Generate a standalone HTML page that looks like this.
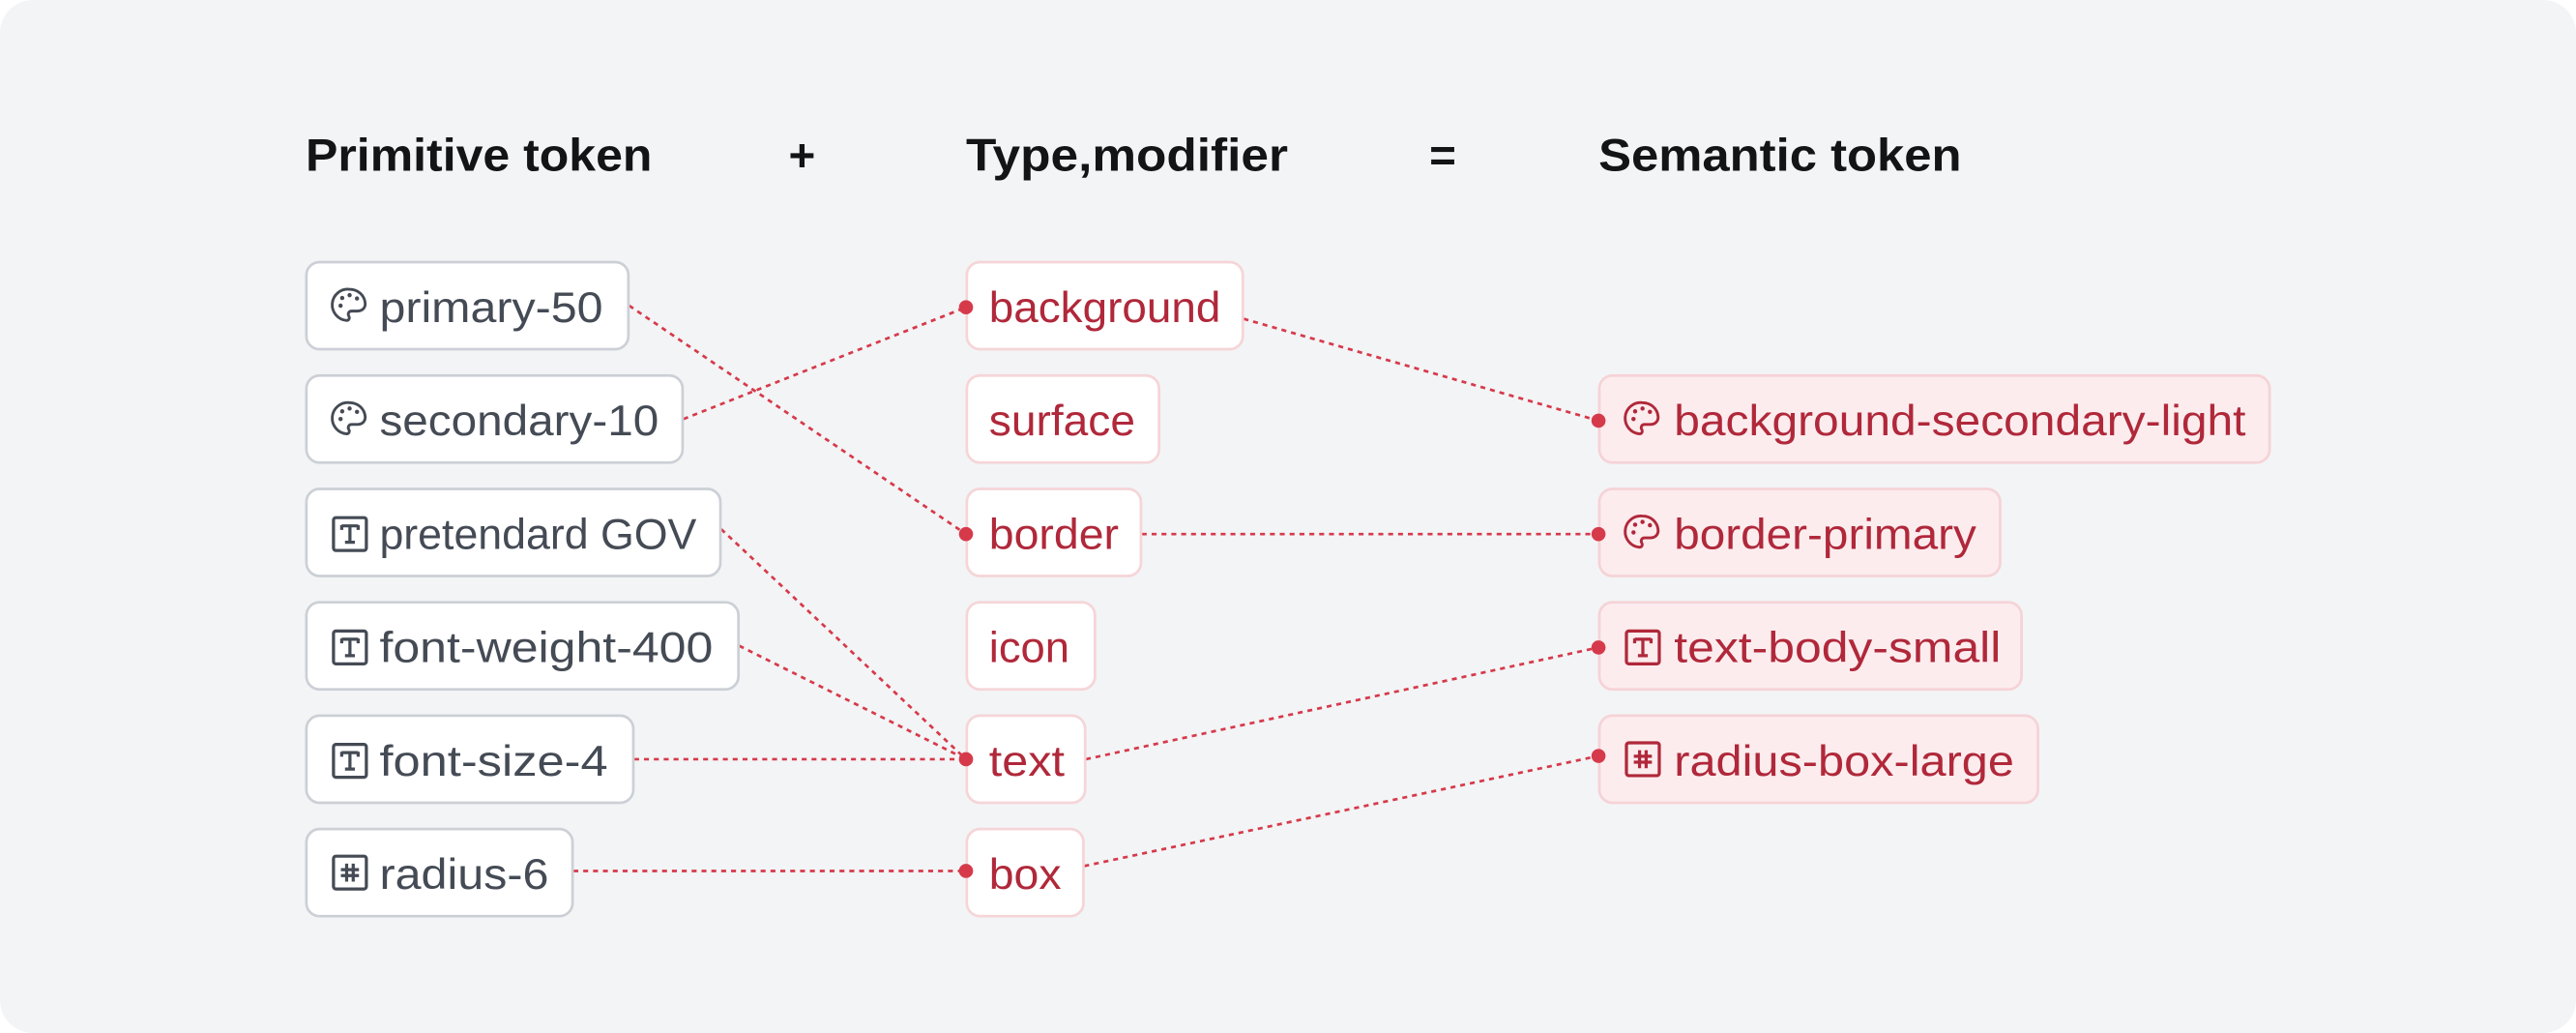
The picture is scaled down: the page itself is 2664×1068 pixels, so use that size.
<!DOCTYPE html>
<html><head><meta charset="utf-8"><style>
html,body{margin:0;padding:0;background:#fff;width:2664px;height:1068px;overflow:hidden}
svg{display:block}
text{font-family:"Liberation Sans",sans-serif}
</style></head><body>
<svg width="2664" height="1068" viewBox="0 0 1568 628.6" preserveAspectRatio="none" xmlns="http://www.w3.org/2000/svg">
<defs>
<g id="pal" fill="none" stroke="currentColor" stroke-width="1.7">
<path d="M10.5 1 A9.5 9.5 0 1 0 9 20 C10.5 20 11 18.5 10.3 17.3 C9.5 16 10.3 14.3 12 14.3 L15.5 14.3 C18.5 14.3 20.5 12.3 20.3 9.5 C19.8 4.5 15.8 1 10.5 1 Z"/>
<circle cx="5.3" cy="11" r="1.3" stroke="none" fill="currentColor"/>
<circle cx="6.3" cy="6.3" r="1.3" stroke="none" fill="currentColor"/>
<circle cx="10.8" cy="4.6" r="1.3" stroke="none" fill="currentColor"/>
<circle cx="15.3" cy="6.6" r="1.3" stroke="none" fill="currentColor"/>
</g>
<g id="tt" fill="none" stroke="currentColor" stroke-width="1.9">
<rect x="1" y="1" width="20" height="20" rx="1.5"/>
<path d="M6 6H16M6 5.5v3M16 5.5v3M11 6V16M8 16H14"/>
</g>
<g id="hs" fill="none" stroke="currentColor" stroke-width="1.9">
<rect x="1" y="1" width="20" height="20" rx="1.5"/>
<path d="M9 5.5V16.5M13 5.5V16.5M5.5 9.2H16.5M5.5 12.8H16.5"/>
</g>
</defs>
<rect x="0" y="0" width="1568" height="628.6" rx="20" fill="#f3f4f6"/>

<g font-weight="bold" font-size="28" fill="#121416">
<text x="186" y="104" textLength="211" lengthAdjust="spacingAndGlyphs">Primitive token</text>
<text x="480" y="104">+</text>
<text x="588" y="104" textLength="196" lengthAdjust="spacingAndGlyphs">Type,modifier</text>
<text x="870" y="104">=</text>
<text x="973" y="104" textLength="221" lengthAdjust="spacingAndGlyphs">Semantic token</text>
</g>

<g stroke="#d63a4a" stroke-width="1.6" stroke-dasharray="3 3" fill="none">
<line x1="383" y1="186" x2="588" y2="325"/>
<line x1="416" y1="255" x2="588" y2="187"/>
<line x1="439" y1="322" x2="588" y2="462"/>
<line x1="450" y1="393" x2="588" y2="462"/>
<line x1="386" y1="462" x2="588" y2="462"/>
<line x1="349" y1="530" x2="588" y2="530"/>
<line x1="757" y1="194" x2="973" y2="256"/>
<line x1="695" y1="325" x2="973" y2="325"/>
<line x1="661" y1="462" x2="973" y2="394"/>
<line x1="660" y1="527" x2="973" y2="460"/>
</g>

<g fill="#fff" stroke="#ccd0d6" stroke-width="1.6">
<rect x="186.5" y="159.5" width="196" height="53" rx="8"/>
<rect x="186.5" y="228.5" width="229" height="53" rx="8"/>
<rect x="186.5" y="297.5" width="252" height="53" rx="8"/>
<rect x="186.5" y="366.5" width="263" height="53" rx="8"/>
<rect x="186.5" y="435.5" width="199" height="53" rx="8"/>
<rect x="186.5" y="504.5" width="162" height="53" rx="8"/>
</g>
<g style="color:#454b55">
<use href="#pal" x="202" y="175"/>
<use href="#pal" x="202" y="244"/>
<use href="#tt" x="202" y="314"/>
<use href="#tt" x="202" y="383"/>
<use href="#tt" x="202" y="452"/>
<use href="#hs" x="202" y="520"/>
</g>
<g font-size="26" fill="#454b55">
<text x="231" y="196" textLength="136" lengthAdjust="spacingAndGlyphs">primary-50</text>
<text x="231" y="265" textLength="170" lengthAdjust="spacingAndGlyphs">secondary-10</text>
<text x="231" y="334" textLength="193" lengthAdjust="spacingAndGlyphs">pretendard GOV</text>
<text x="231" y="403" textLength="203" lengthAdjust="spacingAndGlyphs">font-weight-400</text>
<text x="231" y="472" textLength="139" lengthAdjust="spacingAndGlyphs">font-size-4</text>
<text x="231" y="541" textLength="103" lengthAdjust="spacingAndGlyphs">radius-6</text>
</g>

<g fill="#fff" stroke="#f5d5d8" stroke-width="1.6">
<rect x="588.5" y="159.5" width="168" height="53" rx="8"/>
<rect x="588.5" y="228.5" width="117" height="53" rx="8"/>
<rect x="588.5" y="297.5" width="106" height="53" rx="8"/>
<rect x="588.5" y="366.5" width="78" height="53" rx="8"/>
<rect x="588.5" y="435.5" width="72" height="53" rx="8"/>
<rect x="588.5" y="504.5" width="71" height="53" rx="8"/>
</g>
<g font-size="26" fill="#b0283a">
<text x="602" y="196" textLength="141" lengthAdjust="spacingAndGlyphs">background</text>
<text x="602" y="265" textLength="89" lengthAdjust="spacingAndGlyphs">surface</text>
<text x="602" y="334" textLength="79" lengthAdjust="spacingAndGlyphs">border</text>
<text x="602" y="403" textLength="49" lengthAdjust="spacingAndGlyphs">icon</text>
<text x="602" y="472" textLength="46" lengthAdjust="spacingAndGlyphs">text</text>
<text x="602" y="541" textLength="44" lengthAdjust="spacingAndGlyphs">box</text>
</g>

<g fill="#fcecee" stroke="#f5d3d7" stroke-width="1.6">
<rect x="973.5" y="228.5" width="408" height="53" rx="8"/>
<rect x="973.5" y="297.5" width="244" height="53" rx="8"/>
<rect x="973.5" y="366.5" width="257" height="53" rx="8"/>
<rect x="973.5" y="435.5" width="267" height="53" rx="8"/>
</g>
<g style="color:#b0283a">
<use href="#pal" x="989" y="244"/>
<use href="#pal" x="989" y="313"/>
<use href="#tt" x="989" y="383"/>
<use href="#hs" x="989" y="451"/>
</g>
<g font-size="26" fill="#b0283a">
<text x="1019" y="265" textLength="348" lengthAdjust="spacingAndGlyphs">background-secondary-light</text>
<text x="1019" y="334" textLength="184" lengthAdjust="spacingAndGlyphs">border-primary</text>
<text x="1019" y="403" textLength="199" lengthAdjust="spacingAndGlyphs">text-body-small</text>
<text x="1019" y="472" textLength="207" lengthAdjust="spacingAndGlyphs">radius-box-large</text>
</g>

<g fill="#d63a4a">
<ellipse cx="588" cy="187" rx="4.3" ry="4.3"/>
<ellipse cx="588" cy="325" rx="4.3" ry="4.3"/>
<ellipse cx="588" cy="462" rx="4.3" ry="4.3"/>
<ellipse cx="588" cy="530" rx="4.3" ry="4.3"/>
<ellipse cx="973" cy="256" rx="4.3" ry="4.3"/>
<ellipse cx="973" cy="325" rx="4.3" ry="4.3"/>
<ellipse cx="973" cy="394" rx="4.3" ry="4.3"/>
<ellipse cx="973" cy="460" rx="4.3" ry="4.3"/>
</g>
</svg>
</body></html>
